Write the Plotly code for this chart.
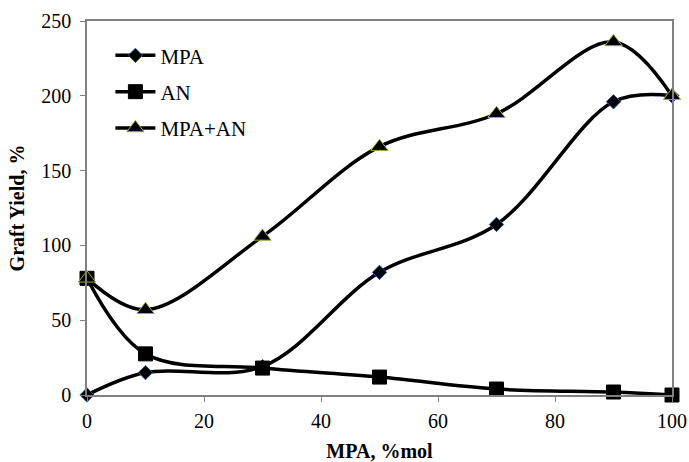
import plotly.graph_objects as go

x_vals = [0, 10, 30, 50, 70, 90, 100]
mpa = [0, 15, 19, 82, 114, 196, 200]
an = [78, 27.5, 18, 12, 4, 2, 0]
mpa_an = [78, 57, 106, 166, 188, 236, 200]

FONT = "Liberation Serif"

fig = go.Figure()
fig.add_trace(go.Scatter(
    x=x_vals, y=mpa, name="MPA", mode="lines+markers", legendgroup="a", cliponaxis=False,
    line=dict(color="black", width=3.5, shape="spline", smoothing=1),
    marker=dict(symbol="diamond", size=11, color="black",
                line=dict(color="#2f4f8f", width=1))))
fig.add_trace(go.Scatter(
    x=x_vals, y=an, name="AN", mode="lines+markers", legendgroup="b", cliponaxis=False,
    line=dict(color="black", width=3.5, shape="spline", smoothing=1),
    marker=dict(symbol="square", size=14, color="black",
                line=dict(color="black", width=1))))
fig.add_trace(go.Scatter(
    x=x_vals, y=mpa_an, name="MPA+AN", mode="lines+markers", legendgroup="c", cliponaxis=False,
    line=dict(color="black", width=3.5, shape="spline", smoothing=1),
    marker=dict(symbol="triangle-up", size=15, color="black",
                line=dict(color="#9aae3c", width=1))))

fig.update_layout(
    width=689, height=462,
    margin=dict(l=87, r=17, t=21, b=67),
    paper_bgcolor="white", plot_bgcolor="white",
    font=dict(family=FONT, size=20, color="black"),
    showlegend=True,
    legend=dict(x=0.04, y=0.962, xanchor="left", yanchor="top",
                bgcolor="rgba(0,0,0,0)", font=dict(family=FONT, size=21),
                traceorder="grouped", tracegroupgap=6, itemwidth=40),
    xaxis=dict(range=[0, 100], tickvals=[0, 20, 40, 60, 80, 100],
               showgrid=False, zeroline=False, showline=True, mirror=True,
               linecolor="#808080", linewidth=1.5, ticks="outside", ticklen=5,
               tickcolor="#808080", automargin=False, ticklabelstandoff=2,
               title=dict(text="<b>MPA, %mol</b>", font=dict(family=FONT, size=20), standoff=18)),
    yaxis=dict(range=[0, 250], tickvals=[0, 50, 100, 150, 200, 250],
               showgrid=False, zeroline=False, showline=True, mirror=True,
               linecolor="#808080", linewidth=1.5, ticks="outside", ticklen=5,
               tickcolor="#808080", automargin=False, ticklabelstandoff=5,
               title=dict(text="<b>Graft Yield, %</b>", font=dict(family=FONT, size=20), standoff=11)),
)

fig.write_html("out.html")
